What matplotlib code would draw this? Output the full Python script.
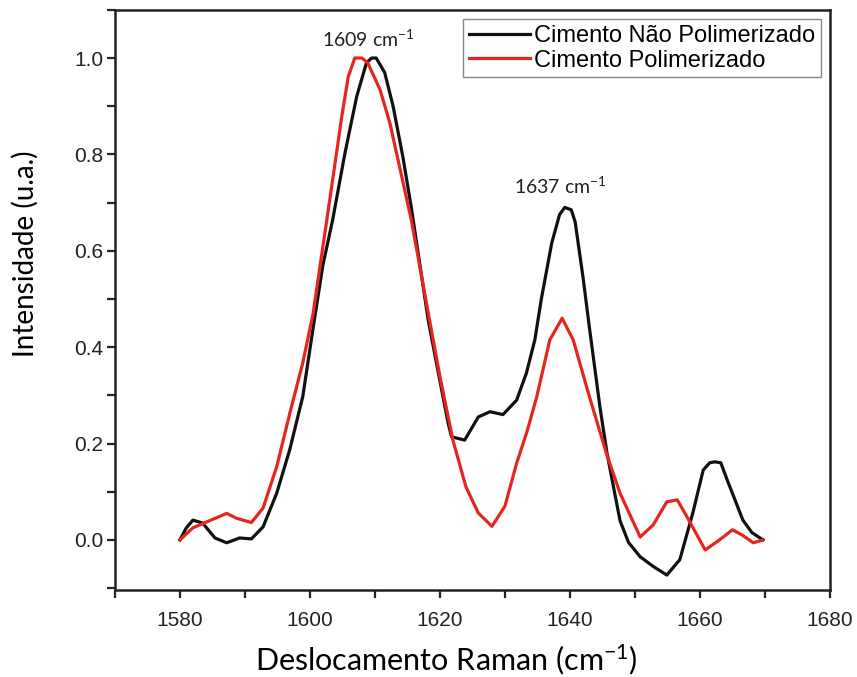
import matplotlib
matplotlib.use("Agg")
import matplotlib.pyplot as plt
from matplotlib.ticker import MultipleLocator, FormatStrFormatter

# Cimento Nao Polimerizado (preto)
nao_x = [1580, 1581, 1582, 1583.5, 1585.4, 1587.2, 1589.2, 1591, 1592.8, 1594.9,
         1596.9, 1598.9, 1600.5, 1602, 1603.5, 1605.4, 1607.2, 1608.7, 1609.5, 1610.2,
         1611.5, 1612.8, 1614.3, 1615.6, 1618.2, 1620, 1621.3, 1621.8, 1623.8, 1625.9,
         1627.7, 1629.7, 1631.8, 1633.3, 1634.6, 1635.6, 1637.2, 1638.4, 1639.2, 1640.2,
         1640.8, 1642, 1643, 1644.6, 1645.7, 1647.7, 1649, 1650.8, 1652.8, 1654.9,
         1656.9, 1658.9, 1660.5, 1661.5, 1662.3, 1663.2, 1664.2, 1666.6, 1668, 1669.7]
nao_y = [0.0, 0.025, 0.041, 0.035, 0.004, -0.006, 0.004, 0.002, 0.027, 0.097,
         0.187, 0.297, 0.44, 0.57, 0.664, 0.803, 0.92, 0.99, 1.0, 1.0,
         0.97, 0.9, 0.795, 0.69, 0.456, 0.33, 0.24, 0.214, 0.207, 0.255,
         0.266, 0.26, 0.29, 0.346, 0.415, 0.5, 0.616, 0.675, 0.69, 0.685,
         0.66, 0.546, 0.44, 0.277, 0.18, 0.04, -0.005, -0.035, -0.055, -0.073,
         -0.041, 0.056, 0.145, 0.16, 0.162, 0.16, 0.124, 0.041, 0.015, 0.0]

# Cimento Polimerizado (vermelho)
pol_x = [1580, 1582, 1584.6, 1587.2, 1588.7, 1591, 1592.8, 1594.9, 1596.9, 1598.9,
         1600.5, 1602.6, 1603.8, 1604.9, 1605.9, 1606.9, 1608, 1608.9, 1610.8, 1612.3,
         1613.8, 1615.6, 1618.3, 1620, 1622, 1624, 1625.9, 1628, 1630, 1631.8,
         1633.4, 1634.9, 1636.9, 1638.8, 1640.5, 1643, 1645.6, 1647.7, 1650.8, 1652.8,
         1654.9, 1656.5, 1658, 1660.8, 1663, 1665, 1666.5, 1668.2, 1669.7]
pol_y = [0.0, 0.025, 0.04, 0.055, 0.045, 0.036, 0.066, 0.152, 0.262, 0.367,
         0.47, 0.664, 0.775, 0.878, 0.961, 1.0, 1.0, 0.99, 0.934, 0.865,
         0.774, 0.664, 0.464, 0.339, 0.207, 0.11, 0.056, 0.028, 0.07, 0.159,
         0.225, 0.297, 0.415, 0.46, 0.415, 0.297, 0.18, 0.097, 0.006, 0.031,
         0.079, 0.083, 0.048, -0.021, 0.0, 0.021, 0.01, -0.006, 0.0]

picos = [("1609", 1609, 1.023), ("1637", 1638.5, 0.718)]

plt.rcParams['mathtext.default'] = 'regular'

fig = plt.figure(figsize=(8.57, 6.77), dpi=100)
ax = fig.add_axes([0.134, 0.1285, 0.8345, 0.857])

ax.plot(nao_x, nao_y, color='#111111', lw=2.3, label='Cimento Não Polimerizado')
ax.plot(pol_x, pol_y, color='#e5261f', lw=2.3, label='Cimento Polimerizado')

for txt, xp, yp in picos:
    ax.text(xp, yp, txt + ' cm$^{-1}$', family='Lato', fontsize=14,
            ha='center', va='baseline', color='#222222')

ax.set_xlim(1570, 1680)
ax.set_ylim(-0.104, 1.1)
ax.xaxis.set_major_locator(MultipleLocator(20))
ax.xaxis.set_minor_locator(MultipleLocator(10))
ax.yaxis.set_major_locator(MultipleLocator(0.2))
ax.yaxis.set_minor_locator(MultipleLocator(0.1))
ax.yaxis.set_major_formatter(FormatStrFormatter('%.1f'))

for s in ax.spines.values():
    s.set_linewidth(1.8)
    s.set_color('#222222')
ax.tick_params(which='both', direction='out', length=6, width=1.6, colors='#222222',
               labelsize=15)
ax.tick_params(axis='x', which='major', pad=9)
ax.tick_params(axis='y', which='major', pad=2.5)
for lab in ax.get_xticklabels() + ax.get_yticklabels():
    lab.set_family('Liberation Sans')

ax.set_xlabel('Deslocamento Raman (cm$^{-1}$)', family='Lato', fontsize=22)
ax.xaxis.set_label_coords(0.463, -0.09)
ax.set_ylabel('Intensidade (u.a.)', family='Lato', fontsize=20)
ax.yaxis.set_label_coords(-0.106, 0.58)

leg = ax.legend(loc='upper right', prop={'family': 'Liberation Sans', 'size': 17},
                frameon=True, fancybox=False, edgecolor='#888888', framealpha=1,
                handlelength=2.6, handletextpad=0.15, borderpad=0.25,
                labelspacing=0.1, borderaxespad=0.4)
leg.get_frame().set_linewidth(1.0)

fig.savefig('out.png', dpi=100)
